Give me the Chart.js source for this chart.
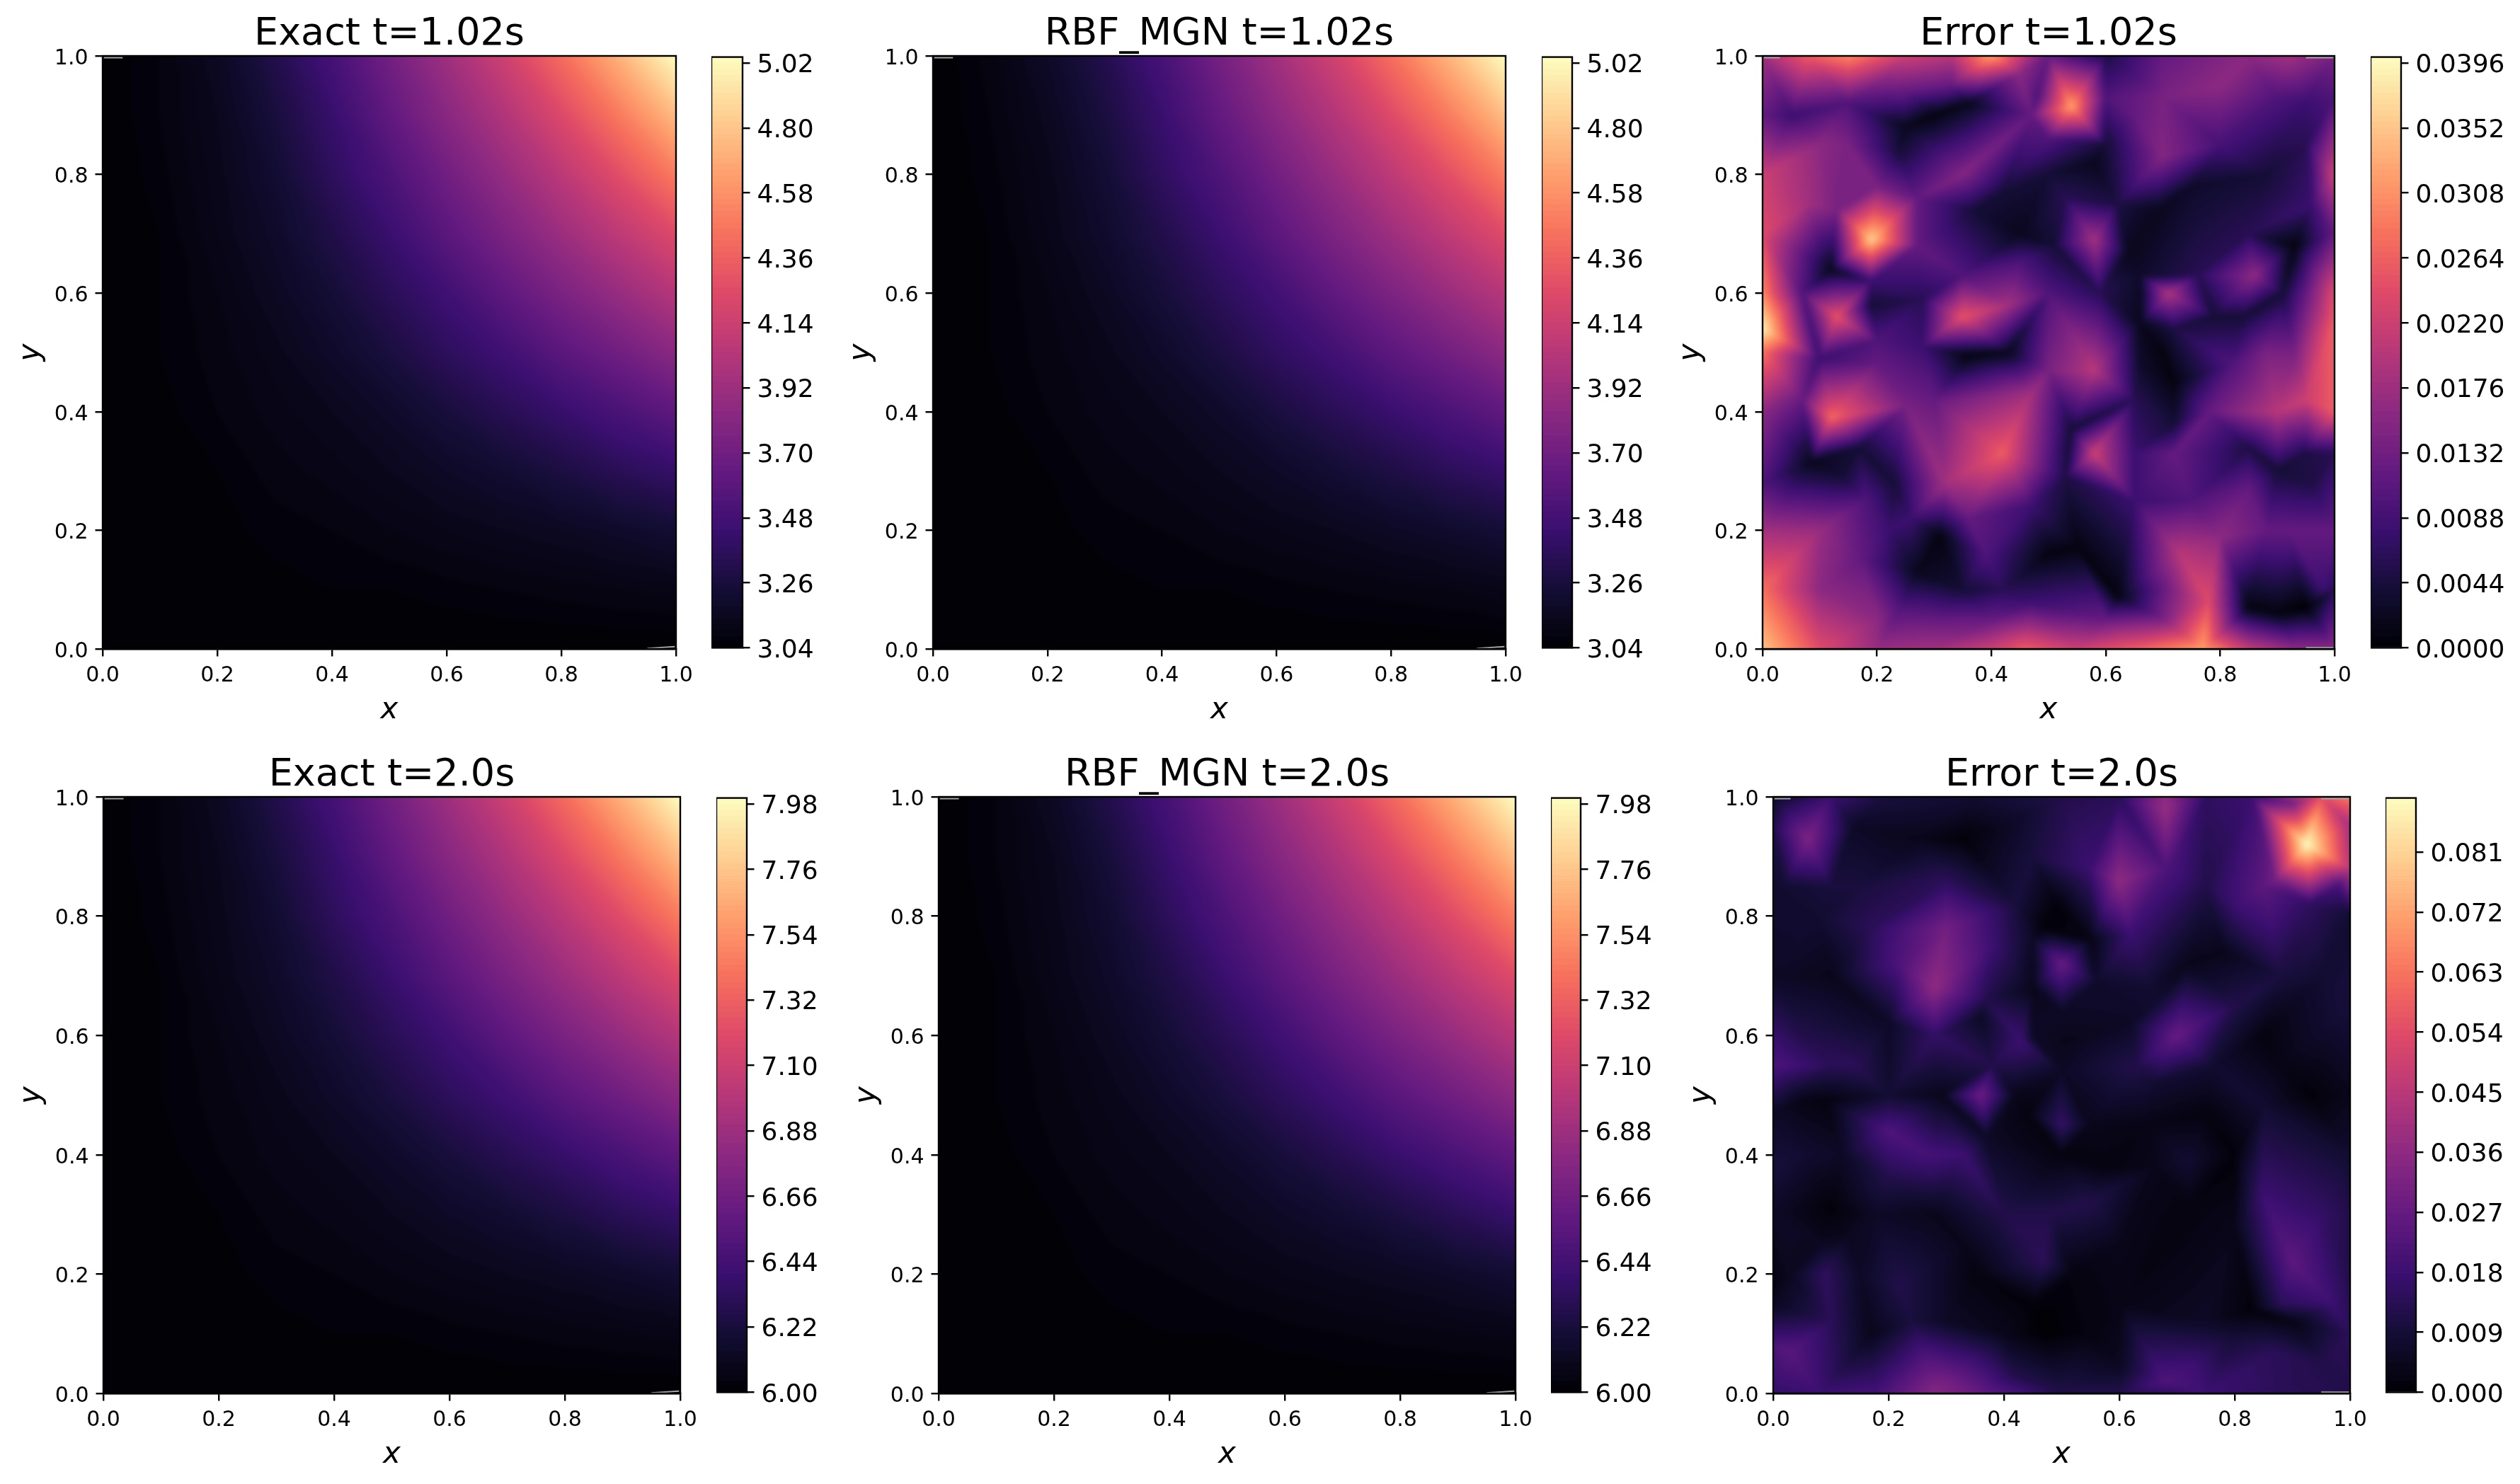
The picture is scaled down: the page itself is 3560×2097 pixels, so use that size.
<!DOCTYPE html>
<html>
<head>
<meta charset="utf-8">
<title>Exact vs RBF_MGN</title>
<script src="https://cdn.jsdelivr.net/npm/chart.js@4"></script>
<style>
    html, body { margin: 0; padding: 0; background: #fff; }
    body { position: relative; width: 3560px; height: 2097px; overflow: hidden; }
    canvas { position: absolute; }
</style>
</head>
<body>
<script>
// --------------------
// Axis ticks and grid
// --------------------
const xTicks = ["0.0", "0.2", "0.4", "0.6", "0.8", "1.0"];
const yTicks = ["0.0", "0.2", "0.4", "0.6", "0.8", "1.0"];
const gridAxis = [0, 0.1, 0.2, 0.3, 0.4, 0.5, 0.6, 0.7, 0.8, 0.9, 1];

const cbExact102 = ["3.04", "3.26", "3.48", "3.70", "3.92", "4.14", "4.36", "4.58", "4.80", "5.02"];
const cbError102 = ["0.0000", "0.0044", "0.0088", "0.0132", "0.0176", "0.0220", "0.0264", "0.0308", "0.0352", "0.0396"];
const cbExact200 = ["6.00", "6.22", "6.44", "6.66", "6.88", "7.10", "7.32", "7.54", "7.76", "7.98"];
const cbError200 = ["0.000", "0.009", "0.018", "0.027", "0.036", "0.045", "0.054", "0.063", "0.072", "0.081"];

// magma colormap, every 10%
const magmaStops = ["#000004", "#140e36", "#3b0f70", "#641a80", "#8c2981", "#b73779",
    "#de4968", "#f7705c", "#fe9f6d", "#fecf92", "#fcfdbf"];

// --------------------
// Fields on the 11x11 grid, rows go from y=0 to y=1
// --------------------
const exact102 = [
    [3.04, 3.04, 3.04, 3.04, 3.04, 3.04, 3.04, 3.04, 3.04, 3.04, 3.04],
    [3.04, 3.04, 3.05, 3.05, 3.06, 3.06, 3.07, 3.08, 3.09, 3.10, 3.11],
    [3.04, 3.05, 3.05, 3.07, 3.08, 3.10, 3.12, 3.14, 3.16, 3.19, 3.23],
    [3.04, 3.05, 3.06, 3.09, 3.11, 3.14, 3.18, 3.22, 3.28, 3.35, 3.41],
    [3.04, 3.05, 3.08, 3.11, 3.14, 3.19, 3.26, 3.34, 3.42, 3.51, 3.61],
    [3.04, 3.06, 3.09, 3.13, 3.19, 3.27, 3.37, 3.46, 3.59, 3.70, 3.83],
    [3.04, 3.06, 3.10, 3.16, 3.24, 3.35, 3.46, 3.61, 3.75, 3.89, 4.03],
    [3.04, 3.06, 3.12, 3.19, 3.30, 3.43, 3.59, 3.75, 3.91, 4.07, 4.24],
    [3.04, 3.07, 3.13, 3.22, 3.37, 3.52, 3.70, 3.88, 4.06, 4.26, 4.49],
    [3.04, 3.08, 3.14, 3.26, 3.42, 3.62, 3.82, 4.01, 4.23, 4.48, 4.76],
    [3.04, 3.08, 3.16, 3.31, 3.49, 3.71, 3.93, 4.15, 4.42, 4.72, 5.04]
];
const rbf102 = [
    [3.04, 3.04, 3.04, 3.04, 3.04, 3.04, 3.04, 3.04, 3.04, 3.04, 3.04],
    [3.04, 3.04, 3.05, 3.05, 3.06, 3.06, 3.07, 3.08, 3.09, 3.10, 3.12],
    [3.04, 3.05, 3.05, 3.07, 3.08, 3.10, 3.12, 3.14, 3.17, 3.20, 3.24],
    [3.04, 3.05, 3.06, 3.09, 3.11, 3.14, 3.18, 3.23, 3.29, 3.36, 3.42],
    [3.04, 3.05, 3.08, 3.11, 3.14, 3.19, 3.27, 3.35, 3.43, 3.52, 3.62],
    [3.04, 3.06, 3.09, 3.13, 3.19, 3.28, 3.38, 3.47, 3.60, 3.71, 3.84],
    [3.04, 3.06, 3.10, 3.16, 3.25, 3.36, 3.47, 3.62, 3.76, 3.90, 4.04],
    [3.04, 3.06, 3.12, 3.20, 3.31, 3.44, 3.60, 3.76, 3.92, 4.08, 4.25],
    [3.04, 3.07, 3.13, 3.23, 3.38, 3.53, 3.71, 3.89, 4.07, 4.27, 4.50],
    [3.04, 3.08, 3.15, 3.27, 3.43, 3.63, 3.83, 4.02, 4.24, 4.49, 4.77],
    [3.04, 3.09, 3.18, 3.32, 3.50, 3.72, 3.94, 4.16, 4.43, 4.73, 5.04]
];
const exact200 = [
    [6.00, 6.00, 6.00, 6.00, 6.00, 6.00, 6.00, 6.00, 6.00, 6.00, 6.00],
    [6.00, 6.00, 6.01, 6.01, 6.02, 6.02, 6.03, 6.04, 6.05, 6.06, 6.07],
    [6.00, 6.01, 6.01, 6.03, 6.04, 6.06, 6.08, 6.10, 6.12, 6.15, 6.19],
    [6.00, 6.01, 6.02, 6.05, 6.07, 6.10, 6.14, 6.18, 6.24, 6.31, 6.37],
    [6.00, 6.01, 6.04, 6.07, 6.10, 6.15, 6.22, 6.30, 6.38, 6.47, 6.57],
    [6.00, 6.02, 6.05, 6.09, 6.15, 6.23, 6.33, 6.42, 6.55, 6.66, 6.79],
    [6.00, 6.02, 6.06, 6.12, 6.20, 6.31, 6.42, 6.57, 6.71, 6.85, 6.99],
    [6.00, 6.02, 6.08, 6.15, 6.26, 6.39, 6.55, 6.71, 6.87, 7.03, 7.20],
    [6.00, 6.03, 6.09, 6.18, 6.33, 6.48, 6.66, 6.84, 7.02, 7.22, 7.45],
    [6.00, 6.04, 6.10, 6.22, 6.38, 6.58, 6.78, 6.97, 7.19, 7.44, 7.72],
    [6.00, 6.04, 6.12, 6.27, 6.45, 6.67, 6.89, 7.11, 7.38, 7.68, 8.00]
];
const rbf200 = [
    [6.00, 6.00, 6.00, 6.00, 6.00, 6.00, 6.00, 6.00, 6.00, 6.00, 6.00],
    [6.00, 6.00, 6.01, 6.01, 6.02, 6.02, 6.03, 6.04, 6.05, 6.06, 6.07],
    [6.00, 6.01, 6.01, 6.03, 6.04, 6.06, 6.08, 6.10, 6.12, 6.15, 6.19],
    [6.00, 6.01, 6.02, 6.05, 6.07, 6.10, 6.14, 6.18, 6.24, 6.31, 6.38],
    [6.00, 6.01, 6.04, 6.07, 6.10, 6.15, 6.22, 6.30, 6.39, 6.48, 6.58],
    [6.00, 6.02, 6.05, 6.09, 6.15, 6.23, 6.33, 6.43, 6.56, 6.67, 6.80],
    [6.00, 6.02, 6.06, 6.12, 6.20, 6.31, 6.43, 6.58, 6.72, 6.86, 7.00],
    [6.00, 6.02, 6.08, 6.15, 6.26, 6.40, 6.56, 6.72, 6.88, 7.04, 7.21],
    [6.00, 6.03, 6.09, 6.18, 6.33, 6.49, 6.67, 6.85, 7.03, 7.23, 7.46],
    [6.00, 6.04, 6.10, 6.22, 6.39, 6.59, 6.79, 6.98, 7.20, 7.45, 7.73],
    [6.00, 6.04, 6.13, 6.28, 6.46, 6.68, 6.90, 7.12, 7.39, 7.69, 8.00]
];

// --------------------
// Error fields, mesh nodes as [x, y, error]
// --------------------
const error102 = [
    // boundary
    [0,0,.035],[.1,0,.024],[.2,0,.017],[.3,0,.018],[.4,0,.022],[.46,0,.026],[.55,0,.022],[.65,0,.026],[.77,0,.032],[.85,0,.021],[.93,0,.016],[1,0,.016],
    [0,.1,.028],[0,.2,.018],[0,.28,.010],[0,.4,.016],[0,.5,.028],[0,.54,.039],[0,.6,.030],[0,.7,.024],[0,.8,.022],[0,.9,.012],[0,1,.018],
    [.08,1,.026],[.15,1,.030],[.25,1,.022],[.33,1,.020],[.4,1,.032],[.5,1,.012],[.6,1,.005],[.7,1,.012],[.85,1,.016],[.92,1,.018],[1,1,.014],
    [1,.93,.010],[1,.8,.022],[1,.7,.012],[1,.6,.024],[1,.55,.026],[1,.4,.026],[1,.33,.006],[1,.2,.012],[1,.1,.006],
    // upper left
    [.54,.915,.032],[.47,.9,.012],[.6,.93,.010],[.5,.86,.010],[.45,.97,.016],[.48,.93,.010],[.19,.69,.036],[.13,.74,.014],[.27,.76,.012],[.27,.68,.012],
    [.19,.62,.008],[.12,.64,.002],[.2,.78,.014],[.13,.56,.025],[.07,.6,.010],[.19,.58,.004],[.2,.52,.010],[.1,.49,.008],
    [.12,.39,.027],[.07,.42,.012],[.085,.315,.002],[.25,.41,.014],[.2,.48,.012],[.17,.34,.004],
    [.35,.56,.025],[.43,.58,.018],[.5,.6,.010],[.28,.59,.006],[.28,.51,.008],[.36,.495,.001],[.43,.5,.002],[.35,.63,.010],[.45,.65,.010],
    [.35,.8,.015],[.3,.84,.008],[.42,.77,.004],[.37,.74,.004],[.25,.88,.002],[.3,.9,.001],[.36,.92,.002],[.24,.84,.004],
    [.15,.92,.010],[.05,.9,.008],[.1,.85,.016],[.08,.75,.018],[.15,.85,.014],[.25,.94,.012],[.33,.95,.012],[.2,.95,.014],
    // upper right
    [.58,.69,.018],[.53,.76,.006],[.62,.75,.005],[.51,.68,.004],[.64,.67,.002],[.59,.6,.006],[.5,.8,.004],[.45,.7,.002],[.58,.82,.002],[.6,.85,.004],
    [.71,.6,.019],[.66,.63,.003],[.76,.63,.006],[.79,.56,.004],[.72,.54,.005],[.66,.55,.002],
    [.86,.63,.016],[.85,.7,.006],[.93,.68,.001],[.91,.6,.004],[.84,.56,.004],
    [.7,.83,.015],[.7,.93,.014],[.69,.74,.002],[.8,.85,.009],[.65,.9,.012],[.88,.8,.004],[.9,.85,.006],[.75,.78,.003],
    [.95,.6,.012],[.96,.75,.008],[.95,.85,.006],[.95,.92,.008],[.8,.95,.016],[.9,.93,.010],
    // lower left
    [.58,.47,.020],[.5,.47,.014],[.65,.42,.006],[.42,.33,.026],[.32,.28,.018],[.26,.22,.008],[.47,.43,.018],[.5,.3,.010],[.3,.42,.012],[.47,.24,.008],[.36,.22,.012],
    [.31,.19,.001],[.27,.13,.002],[.39,.16,.010],[.5,.16,.001],[.55,.17,.001],[.35,.1,.004],[.42,.1,.006],[.24,.07,.010],[.47,.08,.008],
    [.1,.2,.017],[.18,.25,.010],[.17,.15,.012],[.1,.1,.016],[.2,.05,.016],[.22,.2,.008],[.23,.28,.004],[.05,.27,.008],[.14,.29,.004],
    [.4,.05,.012],[.3,.05,.012],
    // lower right
    [.72,.45,.001],[.7,.5,.001],[.66,.48,.003],[.72,.38,.004],[.82,.48,.010],[.78,.4,.012],[.88,.5,.014],[.9,.4,.020],[.93,.5,.014],[.95,.42,.022],
    [.58,.33,.022],[.54,.37,.004],[.65,.25,.008],[.53,.29,.005],[.65,.33,.008],[.75,.25,.010],[.72,.33,.012],[.85,.27,.012],[.85,.34,.005],[.95,.33,.005],
    [.73,.16,.020],[.8,.19,.016],[.88,.2,.012],[.78,.08,.024],[.62,.09,.001],[.7,.1,.012],[.6,.05,.012],[.7,.05,.014],
    [.85,.07,.001],[.95,.07,.000],[.9,.06,.001],[.98,.1,.008],[.92,.2,.012],[.96,.28,.005],[.9,.3,.004]
];

const error200 = [
    // upper right peak
    [.925,.92,.089],[.87,.86,.030],[1,1,.065],[.95,1,.055],[.9,.99,.030],[.83,1,.018],[1,.88,.045],[.98,.85,.020],[.85,.85,.025],[1,.8,.008],[.93,.82,.015],
    [.68,.98,.038],[.68,1,.036],[.6,1,.014],[.75,1,.015],[.7,.9,.020],[.6,.86,.036],[.55,.88,.018],[.68,.88,.022],[.62,.77,.018],[.65,.68,.008],[.72,.72,.004],[.78,.74,.004],[.8,.82,.018],[.75,.85,.012],
    // upper left
    [.06,.93,.032],[.1,.85,.010],[0,.95,.012],[0,1,.006],[.1,1,.018],[.02,.85,.008],[.14,.95,.006],[.25,.93,.004],[.33,.93,.001],[.4,.95,.005],[.45,.9,.010],[.2,1,.010],[.35,1,.008],[.5,1,.012],
    [.28,.68,.036],[.3,.78,.030],[.22,.72,.022],[.17,.78,.014],[.28,.6,.016],[.38,.75,.018],[.37,.66,.012],[.2,.62,.006],[.1,.7,.004],[.08,.8,.008],[.15,.85,.010],[.3,.86,.014],[.42,.82,.010],[.47,.78,.001],[.49,.82,.001],
    // centre
    [.5,.72,.027],[.45,.76,.006],[.55,.76,.003],[.56,.69,.007],[.5,.64,.006],[.45,.68,.004],[.45,.6,.006],[.43,.59,.018],[.36,.63,.006],[.5,.54,.006],[.38,.55,.012],
    [.36,.5,.028],[.29,.5,.004],[.42,.5,.004],[.37,.43,.006],[.5,.45,.016],[.51,.59,.004],[.44,.47,.002],[.55,.45,.004],[.5,.4,.002],
    [.7,.6,.027],[.63,.55,.012],[.8,.65,.012],[.66,.52,.008],[.76,.55,.008],[.62,.62,.006],[.66,.65,.008],
    // right side
    [.85,.6,.002],[.88,.55,.003],[.93,.5,.001],[1,.5,.004],[1,.65,.010],[.95,.7,.008],[.88,.7,.010],[.85,.48,.008],
    [.72,.39,.008],[.66,.38,.004],[.8,.4,.001],[.72,.31,.002],[.75,.47,.002],[.65,.45,.003],[.58,.38,.002],
    // left side
    [0,.55,.022],[.05,.6,.012],[.1,.55,.014],[.14,.55,.014],[.05,.49,.003],[.09,.49,.002],[0,.47,.006],[.2,.5,.008],[0,.7,.006],[0,.85,.008],
    [.2,.44,.022],[.27,.4,.020],[.33,.4,.018],[.2,.36,.012],[.12,.4,.006],[.05,.4,.008],[0,.38,.010],[.28,.3,.004],[.1,.31,.001],[.08,.25,.005],[.18,.3,.006],[.22,.18,.012],
    // lower part
    [.4,.3,.012],[.48,.3,.012],[.55,.32,.012],[.47,.22,.014],[.35,.2,.002],[.33,.25,.004],[.6,.25,.004],[.68,.25,.002],[.6,.15,.003],
    [.9,.22,.025],[.85,.33,.018],[.88,.15,.014],[.97,.15,.018],[.95,.3,.016],[.8,.28,.004],[1,.3,.012],[1,.2,.012],[1,.1,.014],[.83,.14,.001],[.9,.12,.003],[.8,.1,.008],[.87,.07,.014],[.95,.05,.012],[.75,.12,.006],[.73,.05,.018],[.68,.02,.022],[.75,0,.018],[.88,0,.014],[1,0,.012],[.6,.05,.005],
    [.47,.1,.000],[.45,.15,.001],[.55,.1,.002],[.52,.2,.002],[.4,.1,.004],[.42,.03,.012],[.3,.02,.030],[.28,0,.034],[.18,0,.020],[.35,0,.028],[.5,0,.012],[.6,0,.012],[.12,.04,.012],[.03,.07,.024],[0,.08,.022],[0,0,.016],[.08,0,.018],[.1,.12,.014],[.09,.2,.015],[.17,.1,.004],[.24,.12,.010],[0,.15,.005],[0,.18,.002],[.03,.2,.005],[.15,.2,.006],[.3,.12,.006],[.13,.26,.005],[0,.3,.006],[1,.4,.008],[1,.95,.040]
];

// small light gaps the triangulation leaves along the frame, as [x0, y0, x1, y1]
const gapsExact = [[0.002, 0.997, 0.035, 0.997], [0.95, 0.001, 0.998, 0.004]];
const gapsError = [[0.002, 0.997, 0.03, 0.997], [0.95, 0.997, 0.998, 0.997], [0.95, 0.002, 0.998, 0.002]];

// --------------------
// Panel layout, in page pixels
// --------------------
const TITLE_H = 79;
const YAXIS_W = 127;
const XAXIS_H = 114;

const panels = [
    { title: "Exact t=1.02s",   grid: exact102, nodes: null,      min: 3.04, max: 5.04, cb: cbExact102, gaps: gapsExact, left: 145,  right: 955,  cbL: 1005, cbR: 1049, top: 79,   bottom: 917 },
    { title: "RBF_MGN t=1.02s", grid: rbf102,   nodes: null,      min: 3.04, max: 5.04, cb: cbExact102, gaps: gapsExact, left: 1318, right: 2127, cbL: 2178, cbR: 2221, top: 79,   bottom: 917 },
    { title: "Error t=1.02s",   grid: null,     nodes: error102,  min: 0,    max: 0.04, cb: cbError102, gaps: gapsError, left: 2490, right: 3298, cbL: 3349, cbR: 3392, top: 79,   bottom: 917 },
    { title: "Exact t=2.0s",    grid: exact200, nodes: null,      min: 6,    max: 8,    cb: cbExact200, gaps: gapsExact, left: 146,  right: 961,  cbL: 1012, cbR: 1055, top: 1126, bottom: 1969 },
    { title: "RBF_MGN t=2.0s",  grid: rbf200,   nodes: null,      min: 6,    max: 8,    cb: cbExact200, gaps: gapsExact, left: 1326, right: 2141, cbL: 2191, cbR: 2233, top: 1126, bottom: 1969 },
    { title: "Error t=2.0s",    grid: null,     nodes: error200,  min: 0,    max: 0.0891, cb: cbError200, gaps: gapsError, left: 2505, right: 3320, cbL: 3370, cbR: 3413, top: 1126, bottom: 1969 }
];

Chart.defaults.font.family = "'DejaVu Sans'";
Chart.defaults.color = "#000";

// --------------------
// Colours
// --------------------
function hexToRgb(hex) {
    return [1, 3, 5].map(i => parseInt(hex.slice(i, i + 2), 16));
}
const magmaRgb = magmaStops.map(hexToRgb);

function magma(f) {
    const t = Math.min(Math.max(f, 0), 1) * (magmaRgb.length - 1);
    const i = Math.min(Math.floor(t), magmaRgb.length - 2);
    const k = t - i;
    return magmaRgb[i].map((c, n) => c + (magmaRgb[i + 1][n] - c) * k);
}

// contourf look: the field falls into 100 flat levels
function levelOf(f) {
    return (Math.floor(Math.min(Math.max(f, 0), 0.9999) * 100) + 0.5) / 100;
}

// --------------------
// Triangles
// --------------------
function gridNodes(grid) {
    const out = [];
    grid.forEach((row, j) => row.forEach((v, i) => out.push({ x: gridAxis[i], y: gridAxis[j], v })));
    return out;
}

function gridTriangles(grid) {
    const n = grid[0].length;
    const tris = [];
    for (let j = 0; j < grid.length - 1; j++) {
        for (let i = 0; i < n - 1; i++) {
            const a = j * n + i, b = a + 1, c = a + n, d = c + 1;
            tris.push([a, b, c], [b, d, c]);
        }
    }
    return tris;
}

function circumcircle(p, q, r) {
    const d = 2 * (p.x * (q.y - r.y) + q.x * (r.y - p.y) + r.x * (p.y - q.y));
    const a = p.x * p.x + p.y * p.y, b = q.x * q.x + q.y * q.y, c = r.x * r.x + r.y * r.y;
    const x = (a * (q.y - r.y) + b * (r.y - p.y) + c * (p.y - q.y)) / d;
    const y = (a * (r.x - q.x) + b * (p.x - r.x) + c * (q.x - p.x)) / d;
    return { x, y, r2: (p.x - x) ** 2 + (p.y - y) ** 2 };
}

// Bowyer-Watson
function delaunay(nodes) {
    const n = nodes.length;
    const pts = nodes.concat([{ x: -500, y: -500 }, { x: 500, y: -500 }, { x: 0.5, y: 500 }]);
    let tris = [{ v: [n, n + 1, n + 2], c: circumcircle(pts[n], pts[n + 1], pts[n + 2]) }];

    for (let i = 0; i < n; i++) {
        const p = pts[i];
        const edges = new Map();
        const keep = [];
        tris.forEach(t => {
            if ((p.x - t.c.x) ** 2 + (p.y - t.c.y) ** 2 < t.c.r2) {
                [[0, 1], [1, 2], [2, 0]].forEach(([a, b]) => {
                    const e = [t.v[a], t.v[b]].sort((u, w) => u - w);
                    const key = e.join("_");
                    edges.set(key, edges.has(key) ? null : e);
                });
            } else {
                keep.push(t);
            }
        });
        edges.forEach(e => {
            if (e) keep.push({ v: [e[0], e[1], i], c: circumcircle(pts[e[0]], pts[e[1]], p) });
        });
        tris = keep;
    }
    return tris.map(t => t.v).filter(v => v.every(k => k < n));
}

// --------------------
// Heat field plugin: fills the axes from the dataset through the scales
// --------------------
function makeFieldPlugin(panel, tris) {
    return {
        id: "field",
        beforeDatasetsDraw(chart) {
            const { ctx, chartArea: area, scales } = chart;
            const w = Math.round(area.right - area.left);
            const h = Math.round(area.bottom - area.top);
            const off = document.createElement("canvas");
            off.width = w;
            off.height = h;
            const offCtx = off.getContext("2d");
            const img = offCtx.createImageData(w, h);
            const nodes = chart.data.datasets[0].data;
            const px = nodes.map(n => scales.x.getPixelForValue(n.x) - area.left);
            const py = nodes.map(n => scales.y.getPixelForValue(n.y) - area.top);
            const span = panel.max - panel.min;

            tris.forEach(([a, b, c]) => {
                const det = (py[b] - py[c]) * (px[a] - px[c]) + (px[c] - px[b]) * (py[a] - py[c]);
                if (Math.abs(det) < 1e-6) return;
                const x0 = Math.max(Math.floor(Math.min(px[a], px[b], px[c])), 0);
                const x1 = Math.min(Math.ceil(Math.max(px[a], px[b], px[c])), w - 1);
                const y0 = Math.max(Math.floor(Math.min(py[a], py[b], py[c])), 0);
                const y1 = Math.min(Math.ceil(Math.max(py[a], py[b], py[c])), h - 1);
                for (let y = y0; y <= y1; y++) {
                    for (let x = x0; x <= x1; x++) {
                        const sx = x + 0.5, sy = y + 0.5;
                        const l1 = ((py[b] - py[c]) * (sx - px[c]) + (px[c] - px[b]) * (sy - py[c])) / det;
                        const l2 = ((py[c] - py[a]) * (sx - px[c]) + (px[a] - px[c]) * (sy - py[c])) / det;
                        const l3 = 1 - l1 - l2;
                        if (l1 < -0.002 || l2 < -0.002 || l3 < -0.002) continue;
                        const v = l1 * nodes[a].v + l2 * nodes[b].v + l3 * nodes[c].v;
                        const col = magma(levelOf((v - panel.min) / span));
                        const k = (y * w + x) * 4;
                        img.data[k] = col[0];
                        img.data[k + 1] = col[1];
                        img.data[k + 2] = col[2];
                        img.data[k + 3] = 255;
                    }
                }
            });
            offCtx.putImageData(img, 0, 0);

            ctx.save();
            ctx.beginPath();
            ctx.rect(area.left, area.top, w, h);
            ctx.clip();
            ctx.drawImage(off, area.left, area.top);
            // the reference is a soft, upscaled render
            ctx.filter = "blur(3px)";
            ctx.drawImage(off, area.left, area.top);
            ctx.filter = "none";
            ctx.strokeStyle = "#a8a8a8";
            ctx.lineWidth = 2;
            panel.gaps.forEach(([xa, ya, xb, yb]) => {
                ctx.beginPath();
                ctx.moveTo(scales.x.getPixelForValue(xa), scales.y.getPixelForValue(ya));
                ctx.lineTo(scales.x.getPixelForValue(xb), scales.y.getPixelForValue(yb));
                ctx.stroke();
            });
            ctx.restore();
        }
    };
}

const framePlugin = {
    id: "frame",
    afterDraw(chart) {
        const { ctx, chartArea: a } = chart;
        ctx.save();
        ctx.strokeStyle = "#000";
        ctx.lineWidth = 2.4;
        ctx.strokeRect(a.left, a.top, a.right - a.left, a.bottom - a.top);
        ctx.restore();
    }
};

// --------------------
// Charts
// --------------------
function addCanvas(left, top, width, height) {
    const canvas = document.createElement("canvas");
    canvas.style.left = left + "px";
    canvas.style.top = top + "px";
    canvas.style.width = width + "px";
    canvas.style.height = height + "px";
    canvas.width = width;
    canvas.height = height;
    document.body.appendChild(canvas);
    return canvas.getContext("2d");
}

function axisOptions(ticks, label, extra) {
    return Object.assign({
        type: "linear",
        min: 0,
        max: 1,
        afterBuildTicks: scale => { scale.ticks = ticks.map(t => ({ value: Number(t), label: t })); },
        title: { display: true, text: label, font: { size: 42, style: "italic" }, color: "#000" },
        ticks: {
            font: { size: 30 },
            color: "#000",
            padding: 10,
            autoSkip: false,
            maxRotation: 0,
            callback: v => v.toFixed(1)
        },
        grid: { drawOnChartArea: false, drawTicks: true, tickLength: 10.5, tickWidth: 2.4, tickColor: "#000", lineWidth: 2.4, color: "#000" },
        border: { display: true, color: "#000", width: 2.4 }
    }, extra);
}

function drawPanel(panel) {
    const axW = panel.right - panel.left;
    const axH = panel.bottom - panel.top;
    const ctx = addCanvas(panel.left - YAXIS_W, panel.top - TITLE_H, YAXIS_W + axW + 40, TITLE_H + axH + XAXIS_H);

    const nodes = panel.grid ? gridNodes(panel.grid) : panel.nodes.map(n => ({ x: n[0], y: n[1], v: n[2] }));
    const tris = panel.grid ? gridTriangles(panel.grid) : delaunay(nodes);

    const xAxis = axisOptions(xTicks, "x", { afterFit: s => { s.height = XAXIS_H; } });
    const yAxis = axisOptions(yTicks, "y", { afterFit: s => { s.width = YAXIS_W; } });
    xAxis.title.padding = { top: 0, bottom: 2 };
    yAxis.title.padding = { top: 1, bottom: 0 };
    yAxis.ticks.labelOffset = 4;

    new Chart(ctx, {
        type: "scatter",
        data: { datasets: [{ data: nodes, pointRadius: 0, pointHoverRadius: 0 }] },
        options: {
            responsive: false,
            animation: false,
            devicePixelRatio: 1,
            layout: { padding: { right: 40 } },
            scales: { x: xAxis, y: yAxis },
            plugins: {
                legend: { display: false },
                tooltip: { enabled: false },
                title: {
                    display: true,
                    fullSize: false,
                    text: panel.title,
                    color: "#000",
                    font: { size: 54, weight: "normal", lineHeight: 1 },
                    padding: { top: 22, bottom: 3 }
                }
            }
        },
        plugins: [makeFieldPlugin(panel, tris), framePlugin]
    });
}

function drawColorbar(panel) {
    const pad = 30;
    const barW = panel.cbR - panel.cbL;
    const ctx = addCanvas(panel.cbL, panel.top - pad, barW + 165, panel.bottom - panel.top + pad * 2);

    new Chart(ctx, {
        type: "bar",
        data: {
            labels: [""],
            datasets: [{
                data: [[panel.min, panel.max]],
                barPercentage: 1,
                categoryPercentage: 1,
                backgroundColor: c => {
                    const area = c.chart.chartArea;
                    if (!area) return "#000";
                    const g = c.chart.ctx.createLinearGradient(0, area.bottom, 0, area.top);
                    for (let i = 0; i < 100; i++) {
                        const rgb = magma((i + 0.5) / 100).map(Math.round);
                        const col = `rgb(${rgb[0]},${rgb[1]},${rgb[2]})`;
                        g.addColorStop(i / 100, col);
                        g.addColorStop((i + 1) / 100, col);
                    }
                    return g;
                }
            }]
        },
        options: {
            responsive: false,
            animation: false,
            devicePixelRatio: 1,
            layout: { padding: { top: pad, bottom: pad } },
            scales: {
                x: { display: false },
                y: {
                    type: "linear",
                    position: "right",
                    min: panel.min,
                    max: panel.max,
                    afterFit: s => { s.width = 165; },
                    afterBuildTicks: scale => { scale.ticks = panel.cb.map(t => ({ value: Number(t), label: t })); },
                    ticks: {
                        font: { size: 36 },
                        color: "#000",
                        padding: 10,
                        autoSkip: false,
                        labelOffset: 4,
                        callback: v => panel.cb.find(t => Number(t) === v)
                    },
                    grid: { drawOnChartArea: false, drawTicks: true, tickLength: 10.5, tickWidth: 2.4, tickColor: "#000", lineWidth: 2.4, color: "#000" },
                    border: { display: false }
                }
            },
            plugins: { legend: { display: false }, tooltip: { enabled: false } }
        },
        plugins: [framePlugin]
    });
}

// --------------------
// Page load
// --------------------
panels.forEach(panel => {
    drawPanel(panel);
    drawColorbar(panel);
});
</script>
</body>
</html>
